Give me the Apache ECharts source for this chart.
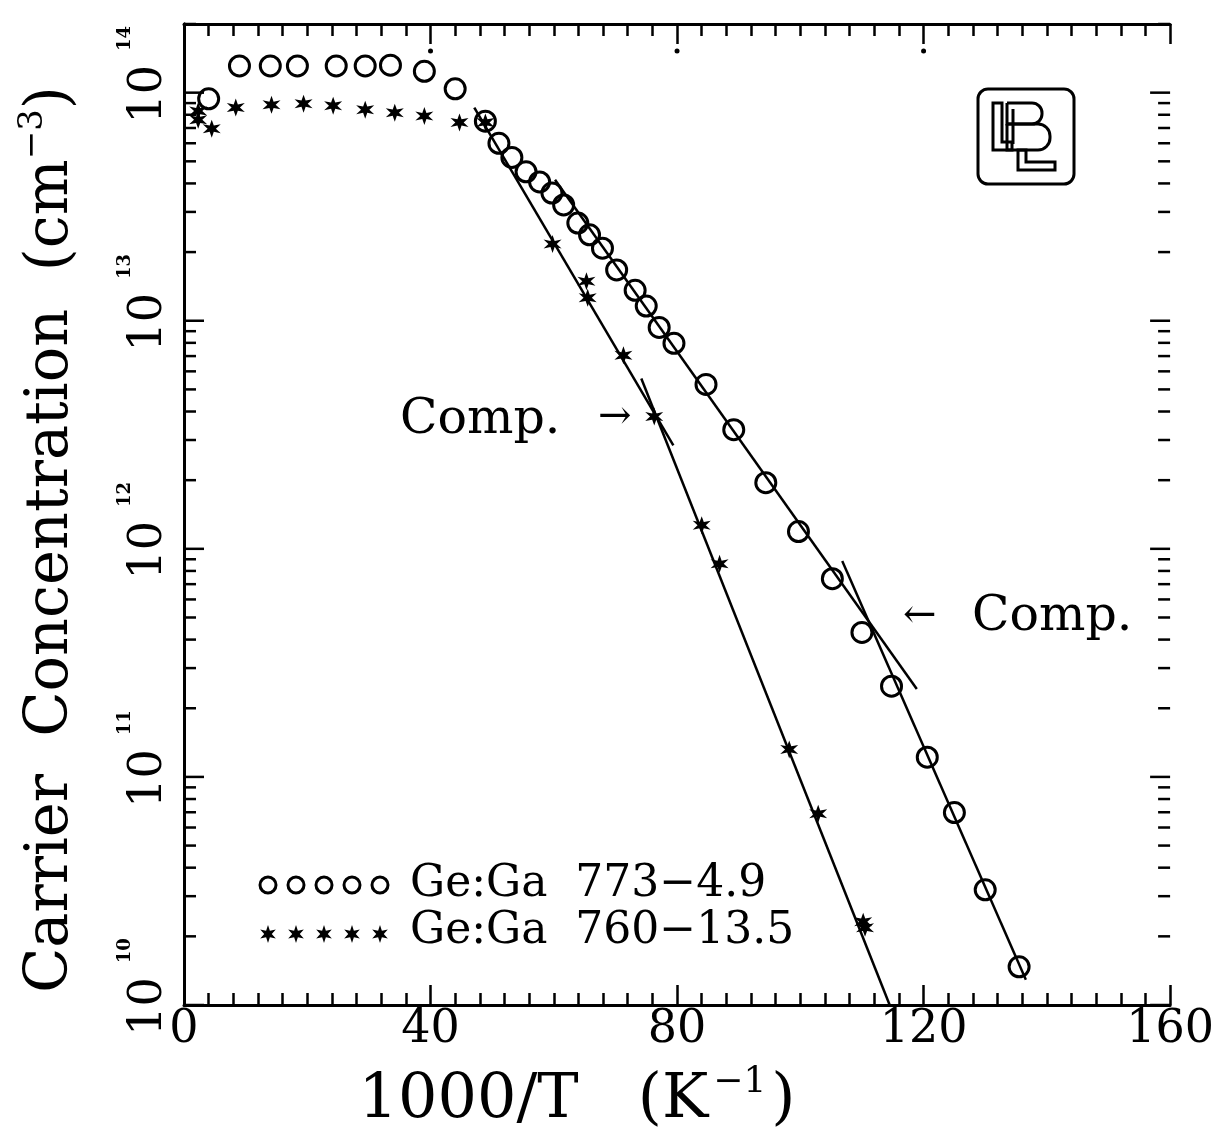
<!DOCTYPE html>
<html>
<head>
<meta charset="utf-8">
<title>Carrier Concentration vs 1000/T</title>
<script src="https://cdn.jsdelivr.net/npm/echarts@6/dist/echarts.min.js"></script>
<style>
  html, body { margin: 0; padding: 0; background: #fff; }
  #main { width: 1217px; height: 1144px; }
</style>
</head>
<body>
<div id="main"></div>
<script type="text/javascript">
var myChart = echarts.init(document.getElementById('main'));

var serif = 'DejaVu Serif';

// Ge:Ga 773-4.9 (open circles): [1000/T, carrier concentration cm^-3]
var sample773 = [
    [4.0, 9.4e13], [9.0, 1.31e14], [14.0, 1.31e14], [18.4, 1.31e14],
    [24.7, 1.31e14], [29.4, 1.31e14], [33.5, 1.32e14], [39.0, 1.24e14],
    [44.0, 1.04e14], [48.9, 7.5e13], [51.1, 6.0e13], [53.2, 5.2e13],
    [55.5, 4.5e13], [57.7, 4.06e13], [59.7, 3.63e13], [61.6, 3.22e13],
    [63.9, 2.68e13], [65.8, 2.38e13], [67.9, 2.08e13], [70.2, 1.67e13],
    [73.2, 1.36e13], [75.0, 1.16e13], [77.1, 9.35e12], [79.5, 7.96e12],
    [84.7, 5.26e12], [89.2, 3.33e12], [94.4, 1.95e12], [99.7, 1.19e12],
    [105.2, 7.4e11], [110.0, 4.3e11], [114.8, 2.5e11], [120.6, 1.22e11],
    [125.0, 6.98e10], [130.0, 3.2e10], [135.5, 1.47e10]
];

// Ge:Ga 760-13.5 (stars)
var sample760 = [
    [2.3, 8.3e13], [2.3, 7.6e13], [4.5, 6.95e13], [8.4, 8.6e13],
    [14.2, 8.85e13], [19.4, 8.95e13], [24.2, 8.77e13], [29.4, 8.42e13],
    [34.2, 8.17e13], [39.0, 7.9e13], [44.7, 7.4e13], [48.9, 7.4e13],
    [59.8, 2.17e13], [65.3, 1.49e13], [65.5, 1.26e13], [71.3, 7.05e12],
    [76.3, 3.8e12], [84.0, 1.27e12], [86.9, 8.6e11], [98.2, 1.32e11],
    [102.9, 6.9e10], [110.2, 2.32e10], [110.5, 2.18e10]
];

// straight-line fits (end points)
var fit760a = [[47.1, 8.6e13], [79.4, 2.84e12]];
var fit760b = [[74.2, 5.58e12], [114.5, 1.0e10]];
var fit773a = [[60.2, 4.15e13], [118.9, 2.43e11]];
var fit773b = [[106.8, 8.85e11], [136.6, 1.29e10]];

// axis ticks
var xMin = 0, xMax = 160, xStep = 40;
var xTopDots = [40, 80, 120];
var yMin = 1e10, yMax = 2e14;
var yDecades = [10, 11, 12, 13, 14];
var yMultipliers = [1, 2, 3, 4, 5, 6, 7, 8, 9];

var legendRows = [
    { marker: 'circle', text: 'Ge:Ga  773−4.9' },
    { marker: 'star', text: 'Ge:Ga  760−13.5' }
];

var starPath = 'path://M10 0 L12 6.54 L18.66 5 L14 10 L18.66 15 L12 13.46 L10 20 L8 13.46 L1.34 15 L6 10 L1.34 5 L8 6.54 Z';

var yTickData = [];
yDecades.forEach(function (d) {
    yMultipliers.forEach(function (m) {
        var v = m * Math.pow(10, d);
        if (v <= yMax) yTickData.push([xMin, v, m === 1 ? 1 : 0]);
    });
});

function isDecade(v) {
    var e = Math.round(Math.log10(v));
    return Math.abs(v - Math.pow(10, e)) / v < 1e-6 ? e : null;
}

function starPoints(cx, cy, r) {
    var pts = [];
    for (var i = 0; i < 12; i++) {
        var a = (-90 + i * 30) * Math.PI / 180;
        var rr = i % 2 === 0 ? r : r * 0.42;
        pts.push([cx + rr * Math.cos(a), cy + rr * Math.sin(a)]);
    }
    return pts;
}

var axisLine = { lineStyle: { color: '#000', width: 3 } };
var tickStyle = { color: '#000', width: 2.5 };

function xAxisCfg(pos, showLabel) {
    return {
        type: 'value', position: pos, min: xMin, max: xMax, interval: xStep,
        axisLine: axisLine,
        axisTick: { inside: true, length: 20, lineStyle: tickStyle },
        minorTick: { show: true, splitNumber: 10, length: 12, lineStyle: tickStyle },
        splitLine: { show: false },
        axisLabel: { show: showLabel, fontFamily: serif, fontSize: 46, color: '#000', margin: 2 }
    };
}

var xBottom = xAxisCfg('bottom', true);
xBottom.name = '{n|1000/T   (K}{s|−1}{c|)}';
xBottom.nameLocation = 'middle';
xBottom.nameGap = 60;
xBottom.nameTextStyle = {
    rich: {
        n: { fontFamily: serif, fontSize: 62, lineHeight: 72, color: '#000' },
        s: { fontFamily: serif, fontSize: 36, lineHeight: 36, verticalAlign: 'top', color: '#000', padding: [0, 5, 0, 5] },
        c: { fontFamily: serif, fontSize: 62, lineHeight: 72, color: '#000', padding: [0, 200, 0, 0] }
    }
};

function yAxisCfg(pos, showLabel) {
    return {
        type: 'log', logBase: 10, position: pos, min: yMin, max: yMax,
        axisLine: axisLine,
        axisTick: { show: false },
        splitLine: { show: false },
        axisLabel: {
            show: showLabel, rotate: 90, margin: 2,
            formatter: function (v) {
                var e = isDecade(v);
                return e === null ? '' : '{b|10}{s|' + e + '}';
            },
            rich: {
                b: { fontFamily: serif, fontSize: 46, lineHeight: 66, color: '#000', padding: [0, 0, 0, 36] },
                s: { fontFamily: serif, fontSize: 18, fontWeight: 'bold', lineHeight: 20, verticalAlign: 'top', color: '#000', padding: [0, 0, 0, 14] }
            }
        }
    };
}

var yLeft = yAxisCfg('left', true);
yLeft.name = '{n|Carrier  Concentration  (cm}{s|−3}{c|)}';
yLeft.nameLocation = 'middle';
yLeft.nameGap = 96;
yLeft.nameTextStyle = {
    rich: {
        n: { fontFamily: serif, fontSize: 59, lineHeight: 72, color: '#000' },
        s: { fontFamily: serif, fontSize: 34, lineHeight: 34, verticalAlign: 'top', color: '#000' },
        c: { fontFamily: serif, fontSize: 59, lineHeight: 72, color: '#000', padding: [0, 50, 0, 0] }
    }
};

function fitSeries(data) {
    return {
        type: 'line', data: data, showSymbol: false, silent: true,
        lineStyle: { color: '#000', width: 2.5 }, z: 3
    };
}

// legend and annotations
var graphics = [];
legendRows.forEach(function (row, i) {
    var cy = 885 + i * 47;
    for (var k = 0; k < 5; k++) {
        var cx = 268 + k * 28;
        if (row.marker === 'circle') {
            graphics.push({ type: 'circle', shape: { cx: cx, cy: cy, r: 8 },
                style: { fill: 'none', stroke: '#000', lineWidth: 3 } });
        } else {
            graphics.push({ type: 'polygon', shape: { points: starPoints(cx, cy + 2, 9) },
                style: { fill: '#000' } });
        }
    }
    graphics.push({ type: 'text', x: 410, y: cy, style: {
        text: row.text, font: '44px "' + serif + '"', fill: '#000', verticalAlign: 'middle' } });
});

graphics.push(
    { type: 'text', x: 400, y: 420, style: { text: 'Comp.', font: '49px "' + serif + '"', fill: '#000', verticalAlign: 'middle' } },
    { type: 'text', x: 598, y: 418, style: { text: '→', font: '40px "' + serif + '"', fill: '#000', verticalAlign: 'middle' } },
    { type: 'text', x: 903, y: 617, style: { text: '←', font: '40px "' + serif + '"', fill: '#000', verticalAlign: 'middle' } },
    { type: 'text', x: 972, y: 617, style: { text: 'Comp.', font: '49px "' + serif + '"', fill: '#000', verticalAlign: 'middle' } }
);

// LBL logo
var logoStyle = { fill: 'none', stroke: '#000', lineWidth: 3 };
graphics.push(
    { type: 'rect', shape: { x: 978, y: 89, width: 96, height: 95, r: 10 }, style: logoStyle },
    { type: 'polygon', shape: { points: [[993, 103], [1002, 103], [1002, 142], [1012, 142], [1012, 150], [993, 150]] }, style: logoStyle },
    { type: 'rect', shape: { x: 1007, y: 103, width: 35, height: 21, r: [0, 10, 10, 0] }, style: logoStyle },
    { type: 'rect', shape: { x: 1007, y: 124, width: 43, height: 26, r: [0, 12, 12, 0] }, style: logoStyle },
    { type: 'line', shape: { x1: 1013, y1: 109, x2: 1013, y2: 144 }, style: { stroke: '#000', lineWidth: 3 } },
    { type: 'polygon', shape: { points: [[1018, 150], [1026, 150], [1026, 162], [1055, 162], [1055, 170], [1018, 170]] }, style: logoStyle }
);

var option = {
    backgroundColor: '#fff',
    animation: false,
    grid: { left: 184, right: 41, top: 24, bottom: 139 },
    xAxis: [xBottom, xAxisCfg('top', false)],
    yAxis: [yLeft, yAxisCfg('right', false)],
    series: [
        fitSeries(fit760a), fitSeries(fit760b), fitSeries(fit773a), fitSeries(fit773b),
        {
            name: 'Ge:Ga 773-4.9', type: 'scatter', data: sample773,
            symbol: 'circle', symbolSize: 20, z: 4,
            itemStyle: { color: 'rgba(0,0,0,0)', borderColor: '#000', borderWidth: 3, opacity: 1 }
        },
        {
            name: 'Ge:Ga 760-13.5', type: 'scatter', data: sample760,
            symbol: starPath, symbolSize: 18, z: 4,
            itemStyle: { color: '#000', opacity: 1 }
        },
        {
            // log-axis ticks (2..9 per decade) on left and right frame
            type: 'custom', data: yTickData, silent: true, clip: false, z: 5,
            renderItem: function (params, api) {
                var v = api.value(1);
                var len = api.value(2) ? 20 : 12;
                var pl = api.coord([xMin, v]);
                var pr = api.coord([xMax, v]);
                var st = { stroke: '#000', lineWidth: 2.5 };
                return {
                    type: 'group',
                    children: [
                        { type: 'line', shape: { x1: pl[0], y1: pl[1], x2: pl[0] + len, y2: pl[1] }, style: st },
                        { type: 'line', shape: { x1: pr[0] - len, y1: pr[1], x2: pr[0], y2: pr[1] }, style: st }
                    ]
                };
            }
        },
        {
            // small dots under the top-frame major ticks
            type: 'custom', data: xTopDots.map(function (x) { return [x, yMax]; }),
            silent: true, clip: false, z: 5,
            renderItem: function (params, api) {
                var p = api.coord([api.value(0), api.value(1)]);
                return { type: 'circle', shape: { cx: p[0], cy: p[1] + 27, r: 2.5 }, style: { fill: '#000' } };
            }
        }
    ],
    graphic: graphics
};

myChart.setOption(option);
</script>
</body>
</html>
